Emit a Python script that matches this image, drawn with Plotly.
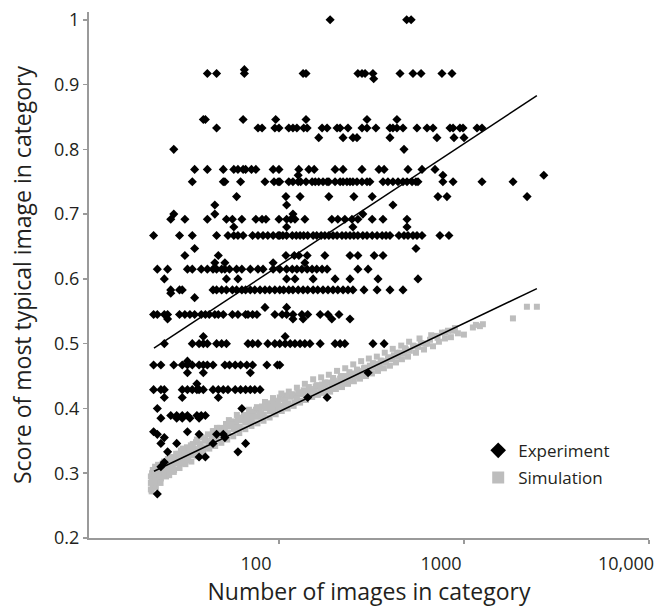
import plotly.graph_objects as go

# ---------------- data ----------------
# Experiment: discrete scores, with the category sizes observed at each score
exp_scores = [1.0, 0.923, 0.917, 0.909, 0.846, 0.833, 0.818, 0.8, 0.769, 0.76,
              0.75, 0.727, 0.714, 0.7, 0.692, 0.68, 0.667, 0.647, 0.636, 0.625,
              0.615, 0.6, 0.583, 0.578, 0.571, 0.556, 0.545, 0.538, 0.5, 0.511,
              0.467, 0.473, 0.455, 0.438, 0.429, 0.417, 0.4, 0.389, 0.385, 0.364,
              0.36, 0.355, 0.346, 0.333, 0.325, 0.317, 0.31, 0.268]
exp_counts = [
    [189, 490, 518],
    [65],
    [41, 46, 65, 135, 140, 267, 281, 292, 322, 451, 530, 586, 760, 861],
    [325],
    [39, 40, 64, 96, 140, 299, 434],
    [46, 77, 81, 95, 100, 113, 119, 125, 136, 142, 171, 182, 206, 214, 236, 281,
     299, 334, 398, 413, 434, 468, 557, 631, 680, 840, 873, 951, 988, 1176, 1251],
    [164, 222, 251, 264, 398, 714, 883, 1000],
    [27, 474],
    [35, 41, 50, 57, 60, 64, 66, 71, 75, 93, 100, 128, 145, 155, 201, 222, 281,
     347, 370, 498, 593, 697],
    [127, 769, 2700],
    [34, 50, 51, 62, 84, 94, 99, 101, 113, 119, 127, 131, 140, 151, 157, 164, 173,
     182, 186, 201, 214, 222, 233, 242, 251, 264, 281, 299, 310, 365, 388, 413, 440,
     468, 492, 524, 550, 564, 769, 873, 1251, 1841],
    [59, 109, 130, 186, 254, 319, 723, 809, 2193],
    [45, 110, 413],
    [27, 45, 119, 284],
    [26, 31, 41, 52, 56, 63, 75, 81, 85, 100, 110, 116, 122, 138, 193, 208, 227,
     248, 267, 319, 365, 492],
    [57, 110, 251, 492],
    [21, 29, 34, 46, 53, 57, 60, 64, 72, 77, 82, 87, 93, 99, 101, 105, 110, 118,
     124, 130, 136, 143, 153, 160, 169, 177, 186, 196, 206, 219, 230, 242, 254, 267,
     284, 299, 319, 339, 361, 379, 398, 445, 474, 498, 530, 557, 593, 741, 829],
    [35, 550],
    [31, 47, 109, 121, 128, 142, 177, 242, 267, 327, 365],
    [45, 51, 93, 138],
    [22, 25, 32, 34, 38, 41, 44, 46, 49, 51, 54, 59, 63, 70, 77, 82, 93, 101, 110,
     118, 125, 133, 142, 151, 160, 171, 182, 267, 303],
    [24, 52, 60, 110, 122, 153, 201, 242, 343, 564],
    [26, 29, 30, 44, 46, 49, 52, 56, 59, 63, 66, 70, 74, 79, 84, 89, 95, 101, 106,
     113, 119, 127, 135, 143, 153, 162, 173, 184, 196, 208, 222, 236, 251, 288, 339,
     398, 468],
    [26],
    [35],
    [84, 110],
    [21, 22, 24, 25, 29, 31, 33, 35, 38, 40, 42, 45, 47, 50, 56, 60, 66, 68, 72, 76,
     95, 104, 110, 119, 133, 143, 167, 184, 211],
    [25, 119, 135, 193, 242],
    [24, 34, 37, 39, 41, 46, 49, 52, 68, 72, 77, 87, 95, 101, 108, 115, 122, 130,
     138, 147, 167, 201, 214, 227, 322, 370],
    [39, 108],
    [21, 23, 27, 30, 32, 34, 37, 39, 41, 44, 51, 54, 58, 62, 67, 72, 86, 98, 101],
    [32],
    [32, 39, 70, 303],
    [36],
    [21, 23, 24, 30, 32, 34, 36, 37, 39, 44, 47, 50, 53, 58, 62, 66, 70, 74, 79],
    [24, 30, 47, 143, 182],
    [22, 63],
    [26, 28, 30, 32, 36, 38, 40],
    [23, 28, 30, 33, 37],
    [21, 32],
    [22, 37, 46, 50],
    [24, 51],
    [23, 28, 44, 66],
    [25, 60],
    [37, 40],
    [24],
    [23],
    [22],
]

# Simulation: category size and score of most typical image
sim_x = [20.3, 20.3, 20.3, 20.6, 20.6, 20.8, 20.8, 21.1, 21.1, 21.4,
         21.6, 21.6, 21.9, 22.2, 22.2, 22.5, 22.7, 23.0, 23.3, 23.6,
         23.9, 24.2, 24.5, 24.8, 25.1, 25.4, 25.8, 26.4, 26.7, 27.4,
         27.8, 28.5, 28.8, 29.5, 29.9, 30.7, 31.4, 31.8, 32.6, 33.4,
         33.9, 34.7, 35.6, 36.5, 37.4, 38.3, 39.3, 40.3, 41.3, 42.4,
         43.4, 44.5, 45.7, 46.8, 48.0, 49.2, 50.4, 51.7, 53.0, 54.3,
         55.7, 57.1, 58.6, 60.0, 61.5, 63.1, 64.7, 66.3, 68.0, 69.7,
         71.4, 73.2, 75.1, 77.0, 78.9, 80.9, 82.9, 85.0, 87.2, 89.4,
         91.6, 93.9, 96.3, 98.7, 101, 104, 106, 109, 112, 115,
         118, 121, 124, 127, 130, 133, 136, 140, 143, 147,
         151, 155, 158, 162, 167, 171, 175, 179, 184, 189,
         193, 198, 203, 208, 214, 219, 224, 230, 236, 242,
         248, 254, 261, 267, 274, 281, 288, 295, 303, 310,
         318, 326, 334, 343, 351, 360, 369, 379, 388, 398,
         408, 418, 429, 440, 451, 462, 474, 486, 498, 510,
         530, 550, 564, 585, 608, 631, 655, 680, 705, 732,
         760, 789, 819, 850, 893, 927, 999, 1117, 1160, 1219,
         1265, 1839, 2188, 2477,
         20.5, 20.9, 21.3, 21.8, 22.4, 22.9, 23.5, 24.0, 24.6, 25.2,
         25.9, 26.5, 27.1, 27.9, 28.6, 29.3, 30.2, 31.0, 32.1, 33.0,
         34.2, 35.2, 36.0, 37.8, 39.8, 41.8, 43.9, 46.2, 48.6, 51.0,
         53.6, 56.4, 59.2, 62.3, 65.5, 68.8, 72.3, 76.0, 79.9, 84.0,
         88.3, 92.8, 97.5, 103, 108, 113, 119, 125, 132, 138,
         145, 153, 160, 169, 177, 186, 196, 206, 216, 228,
         240, 252, 264, 278, 292, 306, 322, 338, 355, 373,
         392, 412, 435, 458, 480, 505, 540, 575, 620, 665,
         720, 790, 870,
         25.5, 27.0, 29.0, 31.2, 33.6, 36.2, 39.0, 42.0, 45.2, 48.8,
         52.5, 56.6, 61.0, 65.8, 71.0, 76.5, 82.5, 89.0, 96.0, 103.5,
         111.5, 120, 130, 140, 151, 163, 176, 190, 205, 222,
         240, 260, 282, 305,
         28.0, 32.3, 37.5, 43.5, 50.7, 59.0, 68.5, 80.0, 92.5, 107.5,
         125, 145, 168, 195]
sim_y = [0.275, 0.285, 0.295, 0.29, 0.30, 0.28, 0.305, 0.287, 0.297, 0.31,
         0.278, 0.293, 0.302, 0.288, 0.313, 0.297, 0.305, 0.292, 0.31, 0.30,
         0.318, 0.305, 0.295, 0.314, 0.322, 0.308, 0.317, 0.325, 0.312, 0.32,
         0.33, 0.318, 0.327, 0.335, 0.322, 0.332, 0.325, 0.34, 0.333, 0.343,
         0.328, 0.338, 0.348, 0.335, 0.345, 0.355, 0.34, 0.35, 0.36, 0.347,
         0.357, 0.365, 0.352, 0.362, 0.37, 0.358, 0.368, 0.376, 0.362, 0.372,
         0.38, 0.368, 0.378, 0.386, 0.372, 0.382, 0.39, 0.378, 0.388, 0.395,
         0.382, 0.392, 0.398, 0.387, 0.396, 0.403, 0.39, 0.4, 0.408, 0.396,
         0.405, 0.412, 0.4, 0.41, 0.417, 0.404, 0.414, 0.42, 0.408, 0.418,
         0.422, 0.409, 0.418, 0.425, 0.412, 0.422, 0.428, 0.415, 0.424, 0.43,
         0.418, 0.427, 0.434, 0.421, 0.431, 0.437, 0.424, 0.433, 0.44, 0.426,
         0.436, 0.443, 0.43, 0.44, 0.446, 0.433, 0.443, 0.45, 0.438, 0.448,
         0.454, 0.442, 0.451, 0.458, 0.446, 0.455, 0.462, 0.45, 0.459, 0.466,
         0.454, 0.463, 0.469, 0.458, 0.467, 0.473, 0.462, 0.471, 0.477, 0.466,
         0.476, 0.482, 0.471, 0.48, 0.486, 0.476, 0.485, 0.491, 0.48, 0.489,
         0.497, 0.486, 0.495, 0.501, 0.491, 0.5, 0.506, 0.496, 0.512, 0.503,
         0.517, 0.508, 0.52, 0.51, 0.524, 0.516, 0.514, 0.525, 0.529, 0.527,
         0.53, 0.539, 0.557, 0.557,
         0.272, 0.283, 0.3, 0.286, 0.3, 0.285, 0.315, 0.302, 0.31, 0.302,
         0.31, 0.318, 0.305, 0.322, 0.33, 0.315, 0.338, 0.33, 0.32, 0.336,
         0.345, 0.332, 0.352, 0.34, 0.352, 0.345, 0.365, 0.37, 0.364, 0.368,
         0.382, 0.375, 0.39, 0.385, 0.381, 0.398, 0.388, 0.402, 0.392, 0.41,
         0.402, 0.416, 0.405, 0.423, 0.412, 0.426, 0.42, 0.432, 0.424, 0.438,
         0.433, 0.445, 0.436, 0.448, 0.44, 0.452, 0.447, 0.458, 0.45, 0.462,
         0.456, 0.468, 0.46, 0.473, 0.463, 0.477, 0.47, 0.48, 0.474, 0.486,
         0.479, 0.492, 0.486, 0.497, 0.493, 0.503, 0.496, 0.508, 0.5, 0.513,
         0.509, 0.517, 0.52,
         0.297, 0.302, 0.308, 0.314, 0.318, 0.326, 0.332, 0.338, 0.342, 0.347,
         0.352, 0.357, 0.362, 0.368, 0.373, 0.377, 0.381, 0.386, 0.391, 0.396,
         0.4, 0.404, 0.409, 0.413, 0.418, 0.422, 0.426, 0.43, 0.434, 0.44,
         0.445, 0.45, 0.455, 0.46,
         0.315, 0.325, 0.338, 0.35, 0.36, 0.37, 0.38, 0.39, 0.398, 0.407,
         0.415, 0.424, 0.43, 0.438]

# Least-squares trend lines (end points)
fit_x = [21.1, 2477]
exp_fit_y = [0.493, 0.883]
sim_fit_y = [0.303, 0.585]

# tick labels
x_tickvals = [100, 1000, 10000]
x_ticktext = ["100", "1000", "10,000"]
y_tickvals = [0.2, 0.3, 0.4, 0.5, 0.6, 0.7, 0.8, 0.9, 1.0]
y_ticktext = ["0.2", "0.3", "0.4", "0.5", "0.6", "0.7", "0.8", "0.9", "1"]

# ---------------- figure ----------------
exp_x, exp_y = [], []
for s, counts in zip(exp_scores, exp_counts):
    for c in counts:
        exp_x.append(c)
        exp_y.append(s)

FONT = "Open Sans"
AX = "#9a9a9a"
TXT = "#231f20"

fig = go.Figure()
fig.add_trace(go.Scatter(
    x=sim_x, y=sim_y, mode="markers", name="Simulation",
    legendgroup="sim", legendrank=2,
    marker=dict(symbol="square", size=6, color="#bdbdbd", line=dict(width=0)),
))
fig.add_trace(go.Scatter(
    x=exp_x, y=exp_y, mode="markers", name="Experiment",
    legendgroup="exp", legendrank=1,
    marker=dict(symbol="diamond", size=7, color="#000000", line=dict(width=0)),
))
fig.add_trace(go.Scatter(
    x=fit_x, y=exp_fit_y, mode="lines", showlegend=False,
    line=dict(color="#000000", width=1.5),
))
fig.add_trace(go.Scatter(
    x=fit_x, y=sim_fit_y, mode="lines", showlegend=False,
    line=dict(color="#000000", width=1.5),
))

fig.update_layout(
    width=665, height=609,
    margin=dict(l=89, r=16, t=7, b=70.5),
    paper_bgcolor="white", plot_bgcolor="white",
    font=dict(family=FONT, color=TXT),
    legend=dict(
        x=0.695, y=0.2, xanchor="left", yanchor="top",
        font=dict(size=17, family=FONT, color=TXT),
        itemsizing="constant", traceorder="grouped", tracegroupgap=2,
        bgcolor="rgba(0,0,0,0)",
    ),
    showlegend=True,
)
fig.update_xaxes(
    type="log", range=[0.9731, 4.0],
    tickvals=x_tickvals, ticktext=x_ticktext,
    ticks="outside", ticklen=4, tickwidth=1.5, tickcolor=AX,
    showline=True, linecolor=AX, linewidth=2,
    showgrid=False, zeroline=False,
    tickfont=dict(size=18, family=FONT, color=TXT),
    ticklabelshift=-23, ticklabelstandoff=4,
    title=dict(text="Number of images in category",
               font=dict(size=23, family=FONT, color=TXT), standoff=6),
)
fig.update_yaxes(
    range=[0.2, 1.012],
    tickvals=y_tickvals, ticktext=y_ticktext,
    ticks="outside", ticklen=4, tickwidth=1.5, tickcolor=AX,
    showline=True, linecolor=AX, linewidth=2,
    showgrid=False, zeroline=False,
    tickfont=dict(size=18, family=FONT, color=TXT),
    title=dict(text="Score of most typical image in category",
               font=dict(size=23, family=FONT, color=TXT), standoff=16),
)

fig.write_html(
    "out.html",
    config={"displayModeBar": False, "staticPlot": True},
    post_script="document.body.style.margin='0';document.body.style.padding='0';"
                "document.documentElement.style.overflow='hidden';",
)
